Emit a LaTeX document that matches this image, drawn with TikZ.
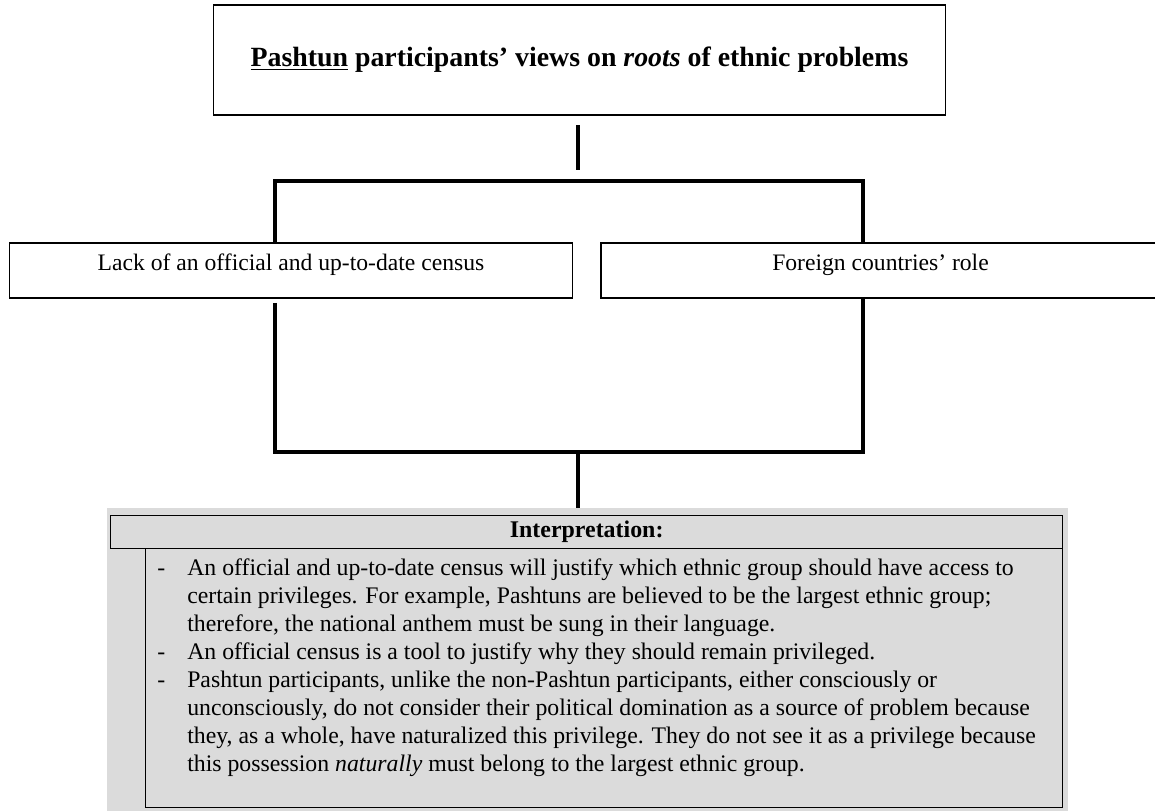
\documentclass[tikz,border=0pt]{standalone}
\usepackage{fontspec}
\setmainfont{Liberation Serif}
\usepackage{array}

\definecolor{panelgray}{gray}{0.86}
\tikzset{
  box/.style={draw, line width=0.8pt, inner sep=0pt},
  link/.style={line width=2.2pt},
  rootbox/.style={box, minimum width=#1, minimum height=1.375cm, text height=12pt, text depth=12pt, font=\fontsize{16.8}{20}\selectfont},
}

\begin{document}
\begin{tikzpicture}[x=0.025cm, y=-0.025cm]
	\useasboundingbox (0,0) rectangle (1155,810);
	% title and the two roots
	\node[box, minimum width=18.275cm, minimum height=2.75cm, font=\fontsize{19.8}{23}\selectfont\bfseries] (title) at (579.5,60) {\underline{Pashtun} participants’ views on \textit{roots} of ethnic problems};
	\node[rootbox=14.05cm] (census) at (291,270.5) {Lack of an official and up-to-date census};
	\node[rootbox=13.975cm] (foreign) at (880.5,270.5) {Foreign countries’ role};

	% bracket lines
	\coordinate (stemtop) at (578,125);
	\coordinate (stembot) at (578,170);
	\coordinate (lbar) at (275,181);
	\coordinate (rbar) at (863,181);
	\coordinate (lfoot) at (275,452);
	\coordinate (rfoot) at (863,452);
	\draw[link] (stemtop) -- (stembot);
	\draw[link] (census.north -| lbar) -- (lbar) -- (rbar) -- (foreign.north -| rbar);
	\draw[link, shorten <=3pt] (census.south -| lfoot) -- (lfoot) -- (rfoot) -- (foreign.south -| rfoot);

	% interpretation panel
	\node[fill=panelgray, inner sep=0pt, minimum width=24cm, minimum height=7.6cm, anchor=north west] (panel) at (107,508) {};
	\draw[link] (lfoot -| stemtop) -- (panel.north -| stemtop);
	\node[box, fill=panelgray, minimum width=23.8cm, minimum height=0.825cm, anchor=north west, font=\fontsize{17}{20}\selectfont\bfseries] (head) at (110,515) {Interpretation:};
	\node[box, minimum width=22.925cm, minimum height=6.475cm, anchor=north west] (notes) at (145,548) {};
	\node[anchor=north west, inner sep=0pt, font=\fontsize{16.9}{19.9}\selectfont] (points) at (157,556) {%
		\begin{tabular}{@{}p{0.75cm}@{}l@{}}
		- & An official and up-to-date census will justify which ethnic group should have access to\\
		  & certain privileges. For example, Pashtuns are believed to be the largest ethnic group;\\
		  & therefore, the national anthem must be sung in their language.\\
		- & An official census is a tool to justify why they should remain privileged.\\
		- & Pashtun participants, unlike the non-Pashtun participants, either consciously or\\
		  & unconsciously, do not consider their political domination as a source of problem because\\
		  & they, as a whole, have naturalized this privilege. They do not see it as a privilege because\\
		  & this possession \textit{naturally} must belong to the largest ethnic group.
		\end{tabular}};
\end{tikzpicture}
\end{document}
